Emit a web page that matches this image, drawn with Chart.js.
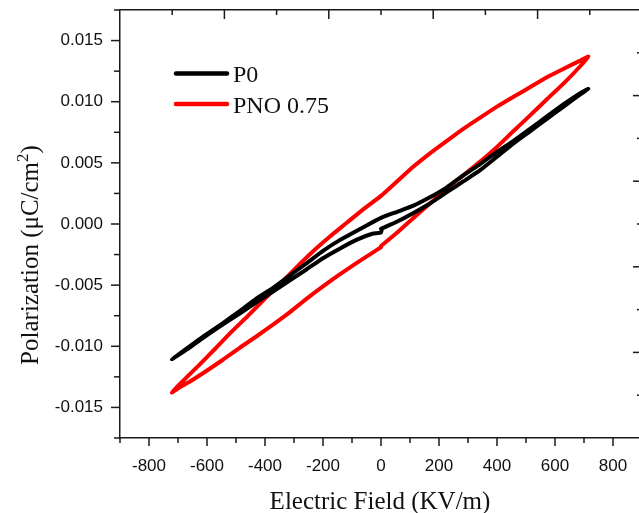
<!DOCTYPE html>
<html>
<head>
<meta charset="utf-8">
<script src="https://cdn.jsdelivr.net/npm/chart.js@4.4.1/dist/chart.umd.min.js"></script>
<style>
  html, body { margin: 0; padding: 0; background: #fff; overflow: hidden; }
  #wrap { width: 639px; height: 513px; overflow: hidden; }
</style>
</head>
<body>
<div id="wrap"><canvas id="loopChart" width="646" height="513"></canvas></div>
<script>
// P-E hysteresis loops, field in KV/m, polarization in uC/cm2
const p0Field = [0, 56, 112, 170, 227, 285, 342, 400, 457, 515, 572, 630, 687, 715,
  687, 630, 572, 515, 457, 400, 342, 285, 227, 170, 112, 56, 0, -56, -141, -200, -256, -314, -371, -430, -486, -545, -601, -660, -721,
  -660, -601, -545, -486, -430, -371, -314, -256, -200, -141, -85, -30, 0, 3];
const p0Pol = [-0.0004, 0.0002, 0.0009, 0.0017, 0.0026, 0.0035, 0.0044, 0.0055, 0.0066, 0.0076, 0.0086, 0.0096, 0.0106, 0.01105,
  0.0107, 0.0098, 0.0088, 0.0078, 0.0068, 0.0059, 0.0049, 0.0040, 0.0030, 0.0022, 0.0015, 0.0010, 0.0005, -0.0002, -0.0013, -0.0022, -0.0032, -0.0042, -0.0052, -0.0061, -0.0071, -0.0081, -0.0090, -0.0100, -0.01105,
  -0.0101, -0.0091, -0.0082, -0.0073, -0.0064, -0.0055, -0.0046, -0.0037, -0.0028, -0.0020, -0.0013, -0.0008, -0.0007, -0.0004];

const pnoField = [0, 56, 112, 170, 227, 285, 342, 400, 457, 515, 572, 630, 687, 715,
  687, 630, 572, 515, 457, 400, 342, 285, 227, 170, 112, 56, 0, -56, -118, -175, -233, -290, -348, -400, -458, -515, -572, -630, -690, -721,
  -690, -660, -601, -545, -486, -430, -371, -314, -256, -200, -141, -85, -26, 0];
const pnoPol = [-0.0018, -0.0007, 0.0005, 0.0017, 0.0029, 0.0040, 0.0051, 0.0063, 0.0076, 0.0089, 0.0102, 0.0115, 0.0129, 0.01369,
  0.01336, 0.0127, 0.0120, 0.0112, 0.0104, 0.0096, 0.0087, 0.0078, 0.0068, 0.0058, 0.0047, 0.0035, 0.0023, 0.0013, 0.0001, -0.0010, -0.0022, -0.0035, -0.0049, -0.0061, -0.0075, -0.0088, -0.0102, -0.0116, -0.0130, -0.01378,
  -0.0133, -0.0129, -0.0120, -0.0111, -0.0101, -0.0092, -0.0082, -0.0072, -0.0061, -0.0051, -0.0041, -0.0032, -0.0023, -0.0019];

const seriesNames = ['P0', 'PNO 0.75'];
const seriesColors = ['#000000', '#ff0000'];
const fieldTicks = [-800, -600, -400, -200, 0, 200, 400, 600, 800];
const polTicks = [-0.015, -0.010, -0.005, 0.000, 0.005, 0.010, 0.015];

const toPoints = (xs, ys) => xs.map((x, i) => ({ x: x, y: ys[i] }));
const axisColor = '#1a1a1a';

// no extra room for overhanging tick labels, the frame sits where layout.padding says
const noOverhang = s => { s.paddingTop = 0; s.paddingBottom = 0; s.paddingLeft = 0; s.paddingRight = 0; };

// tick marks on all four sides (minor ones too), titles and the legend
const frameDeco = {
  id: 'frameDeco',
  afterDraw(chart) {
    const { ctx, chartArea: a, scales } = chart;
    ctx.save();
    ctx.strokeStyle = axisColor;
    ctx.lineWidth = 1.5;
    const line = (x1, y1, x2, y2) => { ctx.beginPath(); ctx.moveTo(x1, y1); ctx.lineTo(x2, y2); ctx.stroke(); };

    for (let i = -9; i <= 9; i++) {
      const px = scales.x.getPixelForValue(i * 100);
      line(px, a.bottom, px, a.bottom + (i % 2 === 0 ? 8 : 5));
    }
    for (let i = -7; i <= 7; i++) {
      const py = scales.y.getPixelForValue(i * 0.0025);
      line(a.left, py, a.left - (i % 2 === 0 ? 9 : 6), py);
    }
    for (let i = 1; i < 10; i++) {
      const px = scales.x2.getPixelForValue(i);
      line(px, a.top, px, a.top + (i % 2 === 0 ? 9 : 5));
      const py = scales.y2.getPixelForValue(i);
      line(a.right, py, a.right - (i % 2 === 0 ? 9 : 5), py);
    }

    // axis titles
    ctx.fillStyle = '#111';
    ctx.font = '25px "Liberation Serif", "Times New Roman", serif';
    ctx.textAlign = 'center';
    ctx.textBaseline = 'alphabetic';
    ctx.fillText('Electric Field (KV/m)', (a.left + a.right) / 2 - 1, 509);

    ctx.save();
    ctx.translate(38, 255);
    ctx.rotate(-Math.PI / 2);
    ctx.textAlign = 'left';
    const main = 'Polarization (\u03BCC/cm';
    const big = '25px "Liberation Serif", "Times New Roman", serif';
    const small = '17px "Liberation Serif", "Times New Roman", serif';
    ctx.font = big;
    const w1 = ctx.measureText(main).width;
    const w3 = ctx.measureText(')').width;
    ctx.font = small;
    const w2 = ctx.measureText('2').width;
    let x0 = -(w1 + w2 + w3) / 2;
    ctx.font = big;
    ctx.fillText(main, x0, 0);
    ctx.font = small;
    ctx.fillText('2', x0 + w1, -10);
    ctx.font = big;
    ctx.fillText(')', x0 + w1 + w2, 0);
    ctx.restore();

    // legend
    ctx.font = '24px "Liberation Serif", "Times New Roman", serif';
    ctx.textAlign = 'left';
    ctx.lineCap = 'round';
    chart.data.datasets.forEach((ds, i) => {
      const ly = 73.5 + i * 30.5;
      ctx.strokeStyle = ds.borderColor;
      ctx.lineWidth = 4.5;
      line(176, ly, 227, ly);
      ctx.fillStyle = '#111';
      ctx.fillText(ds.label, 233, ly + 8.5);
    });
    ctx.restore();
  }
};

new Chart('loopChart', {
  type: 'scatter',
  data: {
    datasets: [
      { label: seriesNames[0], data: toPoints(p0Field, p0Pol), borderColor: seriesColors[0], backgroundColor: seriesColors[0] },
      { label: seriesNames[1], data: toPoints(pnoField, pnoPol), borderColor: seriesColors[1], backgroundColor: seriesColors[1] }
    ].map(ds => Object.assign(ds, {
      showLine: true, pointRadius: 0, borderWidth: 4, tension: 0.15,
      borderCapStyle: 'round', borderJoinStyle: 'round', xAxisID: 'x', yAxisID: 'y'
    }))
  },
  options: {
    responsive: false,
    animation: false,
    devicePixelRatio: 1,
    layout: { padding: { top: 10, right: 4, bottom: 0, left: 0 } },
    plugins: { legend: { display: false }, tooltip: { enabled: false } },
    scales: {
      x: {
        type: 'linear', position: 'bottom', min: -900, max: 900,
        grid: { display: false },
        border: { display: true, color: axisColor, width: 1.5 },
        afterBuildTicks: s => { s.ticks = fieldTicks.map(v => ({ value: v })); },
        afterFit: s => { s.height = 75; noOverhang(s); },
        ticks: { padding: 10, color: '#111', font: { size: 17, family: '"Liberation Sans", Arial, sans-serif' }, maxRotation: 0 }
      },
      y: {
        type: 'linear', position: 'left', min: -0.0175, max: 0.0175,
        grid: { display: false },
        border: { display: true, color: axisColor, width: 1.5 },
        afterBuildTicks: s => { s.ticks = polTicks.map(v => ({ value: v })); },
        afterFit: s => { s.width = 120; noOverhang(s); },
        ticks: { padding: 9, color: '#111', font: { size: 17, family: '"Liberation Sans", Arial, sans-serif' },
          callback: v => v.toFixed(3) }
      },
      x2: {
        type: 'linear', position: 'top', min: 0, max: 10,
        grid: { display: false }, ticks: { display: false },
        border: { display: true, color: axisColor, width: 1.5 },
        afterFit: s => { s.height = 0; noOverhang(s); }
      },
      y2: {
        type: 'linear', position: 'right', min: 0, max: 10,
        grid: { display: false }, ticks: { display: false },
        border: { display: true, color: axisColor, width: 1.5 },
        afterFit: s => { s.width = 0; noOverhang(s); }
      }
    }
  },
  plugins: [frameDeco]
});
</script>
</body>
</html>
